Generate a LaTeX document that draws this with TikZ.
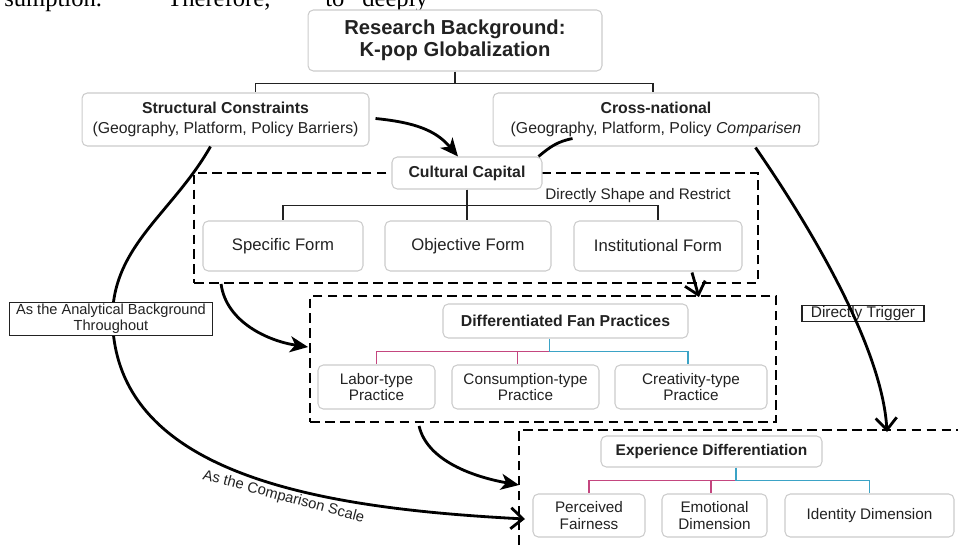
\documentclass[tikz,border=0pt]{standalone}
\usepackage{fontspec}
\setmainfont{Liberation Sans}
\newfontfamily\bodyserif{Liberation Serif}
\usepackage{tikz}
\usetikzlibrary{calc,positioning,arrows.meta}
\definecolor{inkdark}{HTML}{222222}
\definecolor{boxline}{HTML}{CCCCCC}
\definecolor{treepink}{HTML}{C4467F}
\definecolor{treeblue}{HTML}{3BA3C6}
\tikzset{
  card/.style={
    draw=boxline,
    rounded corners=3pt,
    fill=white,
    text=inkdark,
    align=center,
    inner sep=0pt,
    line width=0.6pt,
  },
  topic/.style={card, font=\bfseries\fontsize{11.5pt}{12.5pt}\selectfont},
  factor/.style={card, font=\fontsize{9pt}{11.3pt}\selectfont},
  capital/.style={card, font=\bfseries\fontsize{9pt}{11pt}\selectfont},
  form/.style={card, font=\fontsize{9.5pt}{11pt}\selectfont},
  practice/.style={card, font=\fontsize{8.7pt}{9.6pt}\selectfont},
  tag/.style={
    draw=inkdark,
    fill=white,
    text=inkdark,
    align=center,
    inner sep=0pt,
    line width=0.6pt,
    font=\fontsize{8.3pt}{9pt}\selectfont,
  },
  frame/.style={draw=black, line width=1.1pt, dash pattern=on 5.5pt off 3pt, inner sep=0pt},
  bond/.style={draw=inkdark, line width=0.6pt},
  twig/.style={line width=0.7pt},
  flow/.style={line width=1.6pt, -{Stealth[length=0.36cm, width=0.32cm, inset=0.1cm]}},
  push/.style={line width=1.6pt, -{Straight Barb[length=0.24cm, width=0.42cm]}},
  plain/.style={line width=1.6pt},
}

\begin{document}
\begin{tikzpicture}[x=0.02cm, y=-0.02cm]
  \useasboundingbox (0,0) rectangle (958,549);
  \fill[white] (0,0) rectangle (958,549);
  \node[anchor=base west, inner sep=0pt] (lead) at (4,6)
    {\bodyserif\fontsize{14pt}{14pt}\selectfont\hbox{\rlap{sumption.}\hskip 3.26cm\rlap{Therefore,}\hskip 3.16cm\rlap{to}\hskip 0.74cm deeply}};

  \node[frame, minimum width=11.28cm, minimum height=2.2cm] (G1) at (476,228) {};
  \node[frame, minimum width=9.32cm, minimum height=2.52cm] (G2) at (543,359) {};
  \coordinate (G3) at (519,430);
  \draw[frame] (519,560) -- (G3) -- (970,430);

  \node[topic, minimum width=5.88cm, minimum height=1.22cm] (RB) at (455,40.5) {Research Background:\\K-pop Globalization};
  \node[factor, minimum width=5.74cm, minimum height=1.06cm] (SC) at (225.5,119.5) {\textbf{Structural Constraints}\\(Geography, Platform, Policy Barriers)};
  \node[factor, minimum width=6.52cm, minimum height=1.06cm] (CN) at (656,119.5) {\textbf{Cross-national}\\(Geography, Platform, Policy \textit{Comparisen}};
  \draw[bond] (RB.south) -- ++(0,12) -| ([xshift=0.6cm]SC.north);
  \draw[bond] (RB.south) ++(0,12) -| ([xshift=-0.06cm]CN.north);

  \node[capital, minimum width=3.0cm, minimum height=0.64cm] (CC) at (467,173) {Cultural Capital};
  \node[form, minimum width=3.2cm, minimum height=1.0cm] (F1) at (283,246) {Specific Form};
  \node[form, minimum width=3.32cm, minimum height=1.0cm] (F2) at (468,246) {Objective Form};
  \node[form, minimum width=3.36cm, minimum height=1.0cm] (F3) at (658,246) {Institutional Form};
  \node[text=inkdark, font=\fontsize{8.7pt}{10pt}\selectfont, inner sep=0pt] (DS) at (638,196) {Directly Shape and Restrict};
  \draw[bond] (CC.south) -- ++(0,16) -| (F1.north);
  \draw[bond] (CC.south) ++(0,16) -| (F3.north);
  \draw[bond] (CC.south) -- (CC.south |- F2.north);

  \node[capital, minimum width=4.9cm, minimum height=0.68cm] (DF) at (565.5,321) {Differentiated Fan Practices};
  \node[practice, minimum width=2.34cm, minimum height=0.88cm] (P1) at (376.5,387) {Labor-type\\Practice};
  \node[practice, minimum width=2.94cm, minimum height=0.88cm] (P2) at (525.5,387) {Consumption-type\\Practice};
  \node[practice, minimum width=3.04cm, minimum height=0.88cm] (P3) at (691,387) {Creativity-type\\Practice};
  \coordinate (DFj) at ($(DF.south)+(-16,13)$);
  \draw[twig, treepink] (DFj) -| (P1.north);
  \draw[twig, treepink] (DFj) -| ([xshift=-0.16cm]P2.north);
  \draw[twig, treeblue] (DF.south -| DFj) -- (DFj) -| ([xshift=-0.06cm]P3.north);

  \node[capital, font=\bfseries\fontsize{8.8pt}{10pt}\selectfont, minimum width=4.42cm, minimum height=0.62cm] (ED) at (711.5,451.5) {Experience Differentiation};
  \node[practice, minimum width=2.24cm, minimum height=0.86cm] (E1) at (589,515.5) {Perceived\\Fairness};
  \node[practice, minimum width=2.1cm, minimum height=0.86cm] (E2) at (714.5,515.5) {Emotional\\Dimension};
  \node[practice, minimum width=3.38cm, minimum height=0.86cm] (E3) at (869.5,515.5) {Identity Dimension};
  \coordinate (EDj) at ($(ED.south)+(24.5,13)$);
  \draw[twig, treepink] (EDj) -| (E1.north);
  \draw[twig, treepink] (EDj) -| ([xshift=-0.07cm]E2.north);
  \draw[twig, treeblue] (ED.south -| EDj) -- (EDj) -| (E3.north);

  \node[tag, font=\fontsize{8.8pt}{9pt}\selectfont, minimum width=2.44cm, minimum height=0.32cm] (DT) at (863,313.5) {Directly Trigger};

  \coordinate (C1) at ($(SC.east)+(6,-1)$);
  \coordinate (C2) at ($(CN.south west)+(80,-8)$);
  \coordinate (C3) at ($(SC.south)+(-15,0)$);
  \coordinate (C3m) at (113,330);
  \coordinate (C6) at ($(CN.south east)+(-64,1)$);
  \draw[flow] (C1) .. controls +(40,4) and +(-22,-26) .. ([xshift=-0.18cm]CC.north);
  \draw[plain] (C2) .. controls +(-15,3) and +(12,-10) .. ([xshift=-0.08cm]CC.north east);
  \draw[push] (C3) .. controls +(-40,70) and +(-7,-81) .. (C3m)
    .. controls +(12,150) and +(-190,-10) .. (525,519)
    node[pos=0.57, sloped, below, inner sep=1pt, text=inkdark, font=\fontsize{8.4pt}{9pt}\selectfont] (CS) {As the Comparison Scale};
  \draw[flow] ($(G1.south west)+(28,0)$) .. controls +(5,38) and +(-40,-6) .. ($(G2.west)+(-1,-12)$);
  \draw[push] ($(F3.south)+(34,1)$) -- ($(G2.north east)+(-78,2)$);
  \draw[push] (C6) .. controls +(45,65) and +(-5,-90) .. ($(G3)+(368,2)$);
  \draw[flow] ($(G2.south west)+(110,3)$) .. controls +(8,35) and +(-45,-8) .. ($(G3)+(0,55)$);

  \node[tag, minimum width=4.06cm, minimum height=0.66cm] (AB) at (111,319) {As the Analytical Background\\Throughout};
\end{tikzpicture}
\end{document}
